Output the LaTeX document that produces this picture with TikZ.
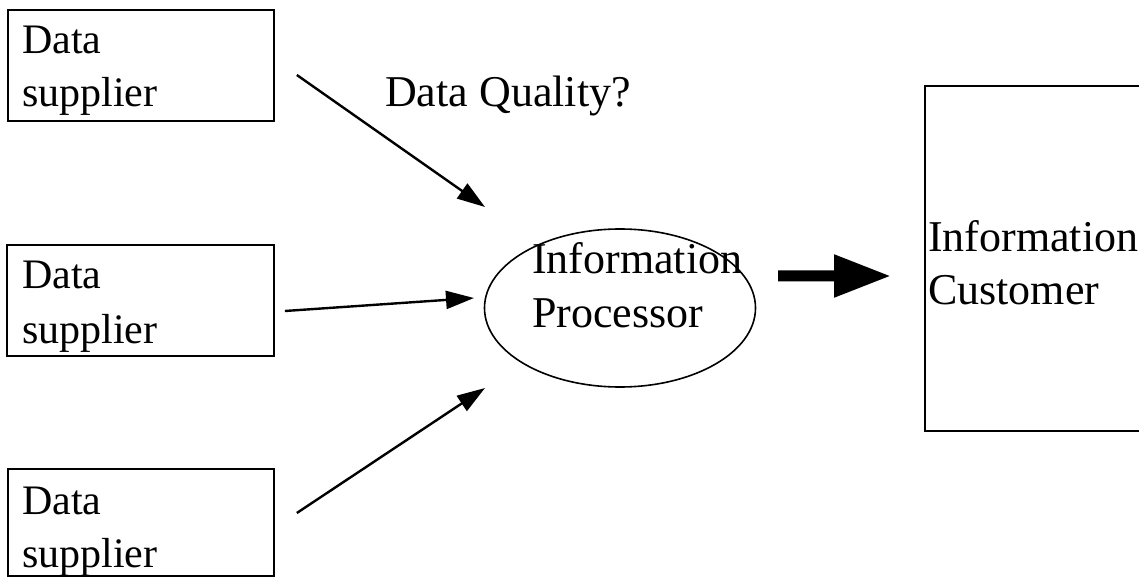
\documentclass[tikz,border=0pt]{standalone}
\usepackage{fontspec}
\setmainfont{Liberation Serif}
\usetikzlibrary{arrows.meta,shapes.geometric,calc}

\tikzset{
  box/.style={draw, line width=1.7bp, rectangle, inner sep=0pt},
  proc/.style={draw, line width=1.6bp, ellipse, inner sep=0pt},
  boxtext/.style={inner sep=0pt, anchor=base west, font=\fontsize{42bp}{50bp}\selectfont},
  bigtext/.style={inner sep=0pt, anchor=base west, font=\fontsize{44bp}{52bp}\selectfont},
  conn/.style={line width=2.4bp, -{Triangle[length=28bp,width=18bp]}},
  fat/.style={line width=11bp, line cap=butt, -{Triangle[length=57bp,width=40bp]}}
}

\begin{document}
\begin{tikzpicture}[x=1bp, y=-1bp]
  \useasboundingbox (0,0) rectangle (1139,579);
  \clip (0,0) rectangle (1139,579);

  % data suppliers
  \node[box, minimum width=266bp, minimum height=111bp] (s1) at (141,65.5) {};
  \node[box, minimum width=267bp, minimum height=111bp] (s2) at (140.5,300.5) {};
  \node[box, minimum width=266bp, minimum height=107bp] (s3) at (141,522.5) {};

  \node[boxtext] (s1a) at (22,54) {Data};
  \node[boxtext] (s1b) at (22,107) {supplier};
  \node[boxtext] (s2a) at (22,289) {Data};
  \node[boxtext] (s2b) at (22,343) {supplier};
  \node[boxtext] (s3a) at (22,514) {Data};
  \node[boxtext] (s3b) at (22,567) {supplier};

  % processor
  \node[proc, minimum width=271bp, minimum height=158bp] (proc) at (620,308) {};
  \node[bigtext] (pa) at (532,274) {Information};
  \node[bigtext] (pb) at (532,328) {Processor};

  % customer (right side runs past the edge)
  \node[box, minimum width=235bp, minimum height=345bp] (cust) at (1042.5,258.5) {};
  \node[bigtext] (ca) at (928,252) {Information};
  \node[bigtext] (cb) at (928,305) {Customer};

  % label
  \node[bigtext] (dq) at (385,107) {Data Quality?};

  % connectors
  \draw[conn] ($(s1.east)+(22,9.5)$) -- ($(proc.center)+(-135,-101)$);
  \draw[conn] ($(s2.east)+(10,10.5)$) -- ($(proc.center)+(-146,-10)$);
  \draw[conn] ($(s3.east)+(22,-9.5)$) -- ($(proc.center)+(-135,80)$);
  \draw[fat] ($(proc.center)+(158,-32)$) -- ($(cust.west)+(-33,17.5)$);
\end{tikzpicture}
\end{document}
